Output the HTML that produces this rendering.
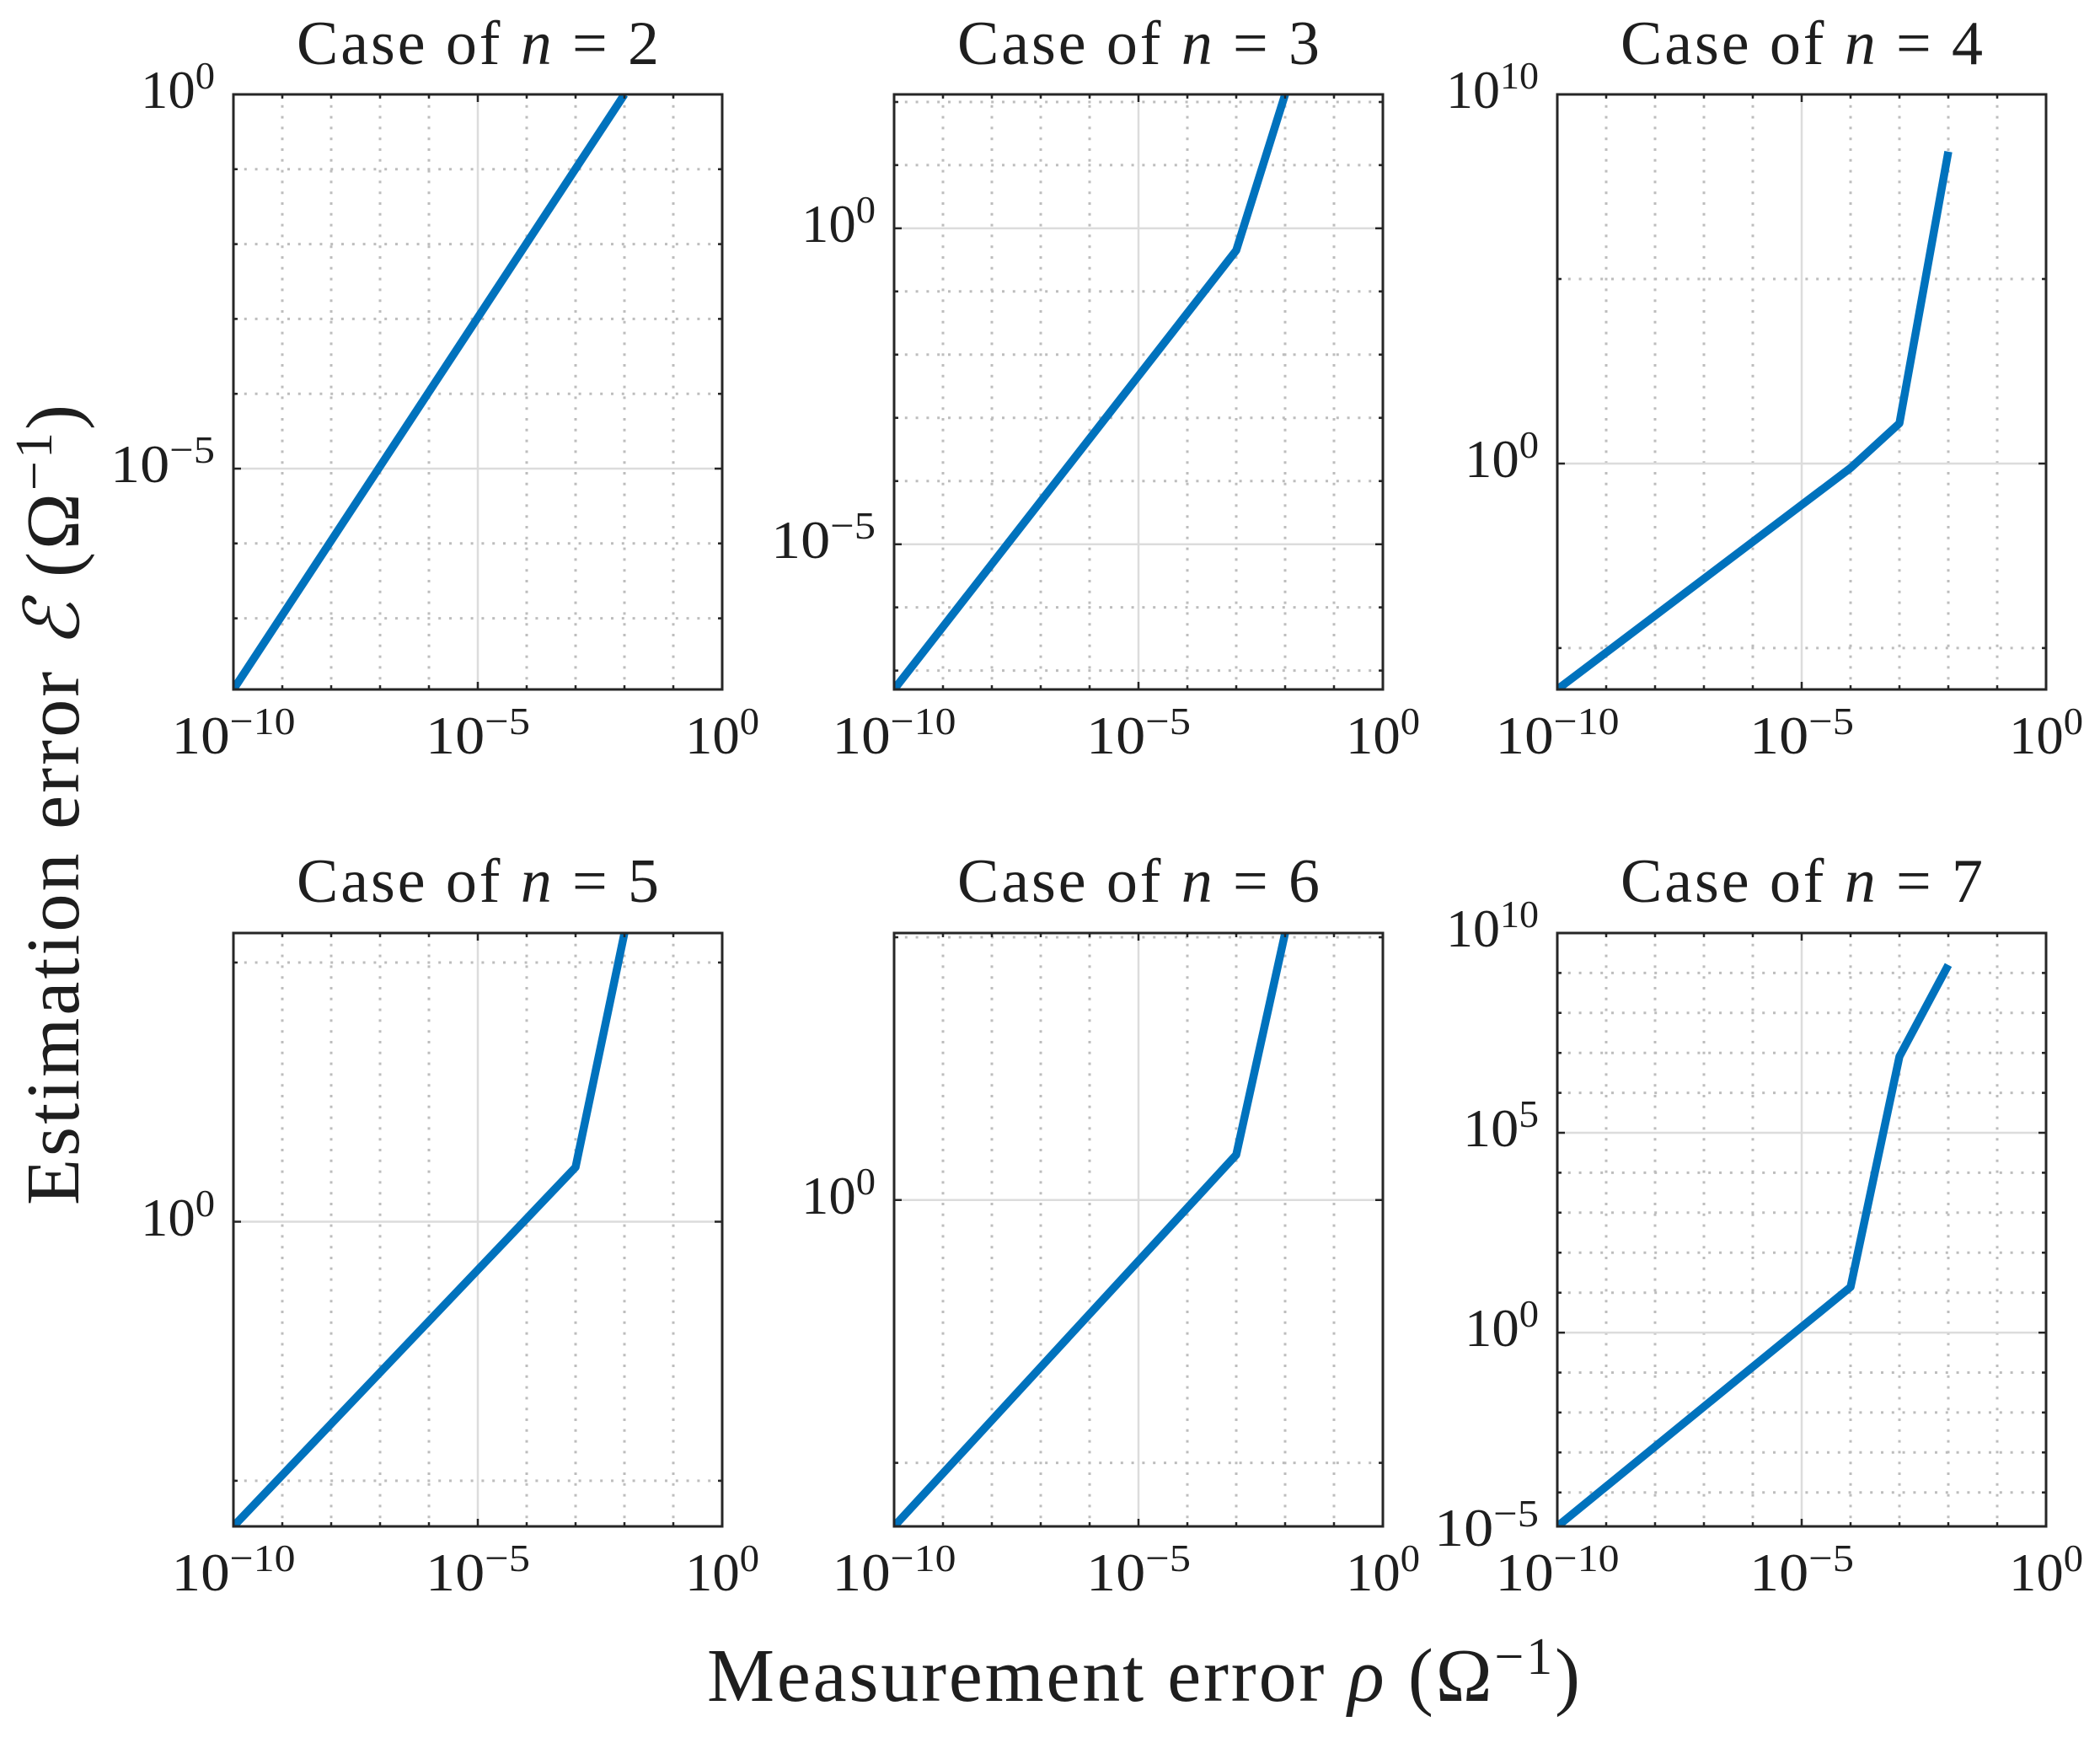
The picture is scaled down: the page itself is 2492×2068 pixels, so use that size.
<!DOCTYPE html>
<html>
<head>
<meta charset="utf-8">
<style>
html,body{margin:0;padding:0;background:#fff;}
svg{display:block;}
text{font-family:"Liberation Serif","DejaVu Serif",serif;fill:#1e1e1e;}
.mn{stroke:#bdbdbd;stroke-width:3;stroke-dasharray:3 9.8;fill:none;}
.mj{stroke:#dcdcdc;stroke-width:2.5;fill:none;}
.dl{stroke:#0072BD;stroke-width:9.5;fill:none;stroke-linejoin:round;stroke-linecap:butt;}
.bx{stroke:#262626;stroke-width:3;fill:none;}
.tk{stroke:#262626;stroke-width:2.5;fill:none;}
.tl{font-size:64px;}
.ti{font-size:74px;}
</style>
</head>
<body>
<svg width="2492" height="2068" viewBox="0 0 2492 2068" xmlns="http://www.w3.org/2000/svg">
<rect width="2492" height="2068" fill="#fff"/>
<defs>
<clipPath id="c706"><rect x="0" y="0" width="580" height="706"/></clipPath>
<clipPath id="c704"><rect x="0" y="0" width="580" height="704"/></clipPath>
<path id="vd706" d="M58 0V706M116 0V706M174 0V706M232 0V706M348 0V706M406 0V706M464 0V706M522 0V706"/>
<path id="vd704" d="M58 0V704M116 0V704M174 0V704M232 0V704M348 0V704M406 0V704M464 0V704M522 0V704"/>
<path id="xt706" d="M58 706v-5M116 706v-5M174 706v-5M232 706v-5M290 706v-9M348 706v-5M406 706v-5M464 706v-5M522 706v-5M58 0v5M116 0v5M174 0v5M232 0v5M290 0v9M348 0v5M406 0v5M464 0v5M522 0v5"/>
<path id="xt704" d="M58 704v-5M116 704v-5M174 704v-5M232 704v-5M290 704v-9M348 704v-5M406 704v-5M464 704v-5M522 704v-5M58 0v5M116 0v5M174 0v5M232 0v5M290 0v9M348 0v5M406 0v5M464 0v5M522 0v5"/>
</defs>

<!-- Panel 1: n=2 -->
<g transform="translate(277,112)">
<use href="#vd706" class="mn"/>
<path class="mn" d="M0 88.8H580M0 177.6H580M0 266.4H580M0 355.2H580M0 532.8H580M0 621.6H580"/>
<path class="mj" d="M290 0V706M0 444H580"/>
<g clip-path="url(#c706)"><polyline class="dl" points="0,706 464,0"/></g>
<use href="#xt706" class="tk"/>
<path class="tk" d="M0 88.8h5M580 88.8h-5M0 177.6h5M580 177.6h-5M0 266.4h5M580 266.4h-5M0 355.2h5M580 355.2h-5M0 532.8h5M580 532.8h-5M0 621.6h5M580 621.6h-5M0 444h9M580 444h-9"/>
<rect class="bx" x="0" y="0" width="580" height="706"/>
</g>

<!-- Panel 2: n=3 -->
<g transform="translate(1061,112)">
<use href="#vd706" class="mn"/>
<path class="mn" d="M0 9H580M0 83.9H580M0 233.8H580M0 308.8H580M0 383.7H580M0 458.7H580M0 608.6H580M0 683.6H580"/>
<path class="mj" d="M290 0V706M0 158.9H580M0 533.7H580"/>
<g clip-path="url(#c706)"><polyline class="dl" points="0,706 406,185.1 464,0"/></g>
<use href="#xt706" class="tk"/>
<path class="tk" d="M0 9h5M580 9h-5M0 83.9h5M580 83.9h-5M0 233.8h5M580 233.8h-5M0 308.8h5M580 308.8h-5M0 383.7h5M580 383.7h-5M0 458.7h5M580 458.7h-5M0 608.6h5M580 608.6h-5M0 683.6h5M580 683.6h-5M0 158.9h9M580 158.9h-9M0 533.7h9M580 533.7h-9"/>
<rect class="bx" x="0" y="0" width="580" height="706"/>
</g>

<!-- Panel 3: n=4 -->
<g transform="translate(1848,112)">
<use href="#vd706" class="mn"/>
<path class="mn" d="M0 219H580M0 656.9H580"/>
<path class="mj" d="M290 0V706M0 438H580"/>
<g clip-path="url(#c706)"><polyline class="dl" points="0,706 348,443.2 406,390.2 464,67.9"/></g>
<use href="#xt706" class="tk"/>
<path class="tk" d="M0 219h5M580 219h-5M0 656.9h5M580 656.9h-5M0 438h9M580 438h-9"/>
<rect class="bx" x="0" y="0" width="580" height="706"/>
</g>

<!-- Panel 4: n=5 -->
<g transform="translate(277,1107)">
<use href="#vd704" class="mn"/>
<path class="mn" d="M0 35H580M0 649.9H580"/>
<path class="mj" d="M290 0V704M0 342.5H580"/>
<g clip-path="url(#c704)"><polyline class="dl" points="0,704 406,277.9 464,0"/></g>
<use href="#xt704" class="tk"/>
<path class="tk" d="M0 35h5M580 35h-5M0 649.9h5M580 649.9h-5M0 342.5h9M580 342.5h-9"/>
<rect class="bx" x="0" y="0" width="580" height="704"/>
</g>

<!-- Panel 5: n=6 -->
<g transform="translate(1061,1107)">
<use href="#vd704" class="mn"/>
<path class="mn" d="M0 5H580M0 628.6H580"/>
<path class="mj" d="M290 0V704M0 316.8H580"/>
<g clip-path="url(#c704)"><polyline class="dl" points="0,704 406,263.1 464,0"/></g>
<use href="#xt704" class="tk"/>
<path class="tk" d="M0 5h5M580 5h-5M0 628.6h5M580 628.6h-5M0 316.8h9M580 316.8h-9"/>
<rect class="bx" x="0" y="0" width="580" height="704"/>
</g>

<!-- Panel 6: n=7 -->
<g transform="translate(1848,1107)">
<use href="#vd704" class="mn"/>
<path class="mn" d="M0 47.4H580M0 94.8H580M0 142.2H580M0 189.6H580M0 284.4H580M0 331.8H580M0 379.3H580M0 426.7H580M0 521.5H580M0 568.9H580M0 616.3H580M0 663.7H580"/>
<path class="mj" d="M290 0V704M0 237H580M0 474.1H580"/>
<g clip-path="url(#c704)"><polyline class="dl" points="0,704 348,420 406,146.5 464,37.9"/></g>
<use href="#xt704" class="tk"/>
<path class="tk" d="M0 47.4h5M580 47.4h-5M0 94.8h5M580 94.8h-5M0 142.2h5M580 142.2h-5M0 189.6h5M580 189.6h-5M0 284.4h5M580 284.4h-5M0 331.8h5M580 331.8h-5M0 379.3h5M580 379.3h-5M0 426.7h5M580 426.7h-5M0 521.5h5M580 521.5h-5M0 568.9h5M580 568.9h-5M0 616.3h5M580 616.3h-5M0 663.7h5M580 663.7h-5M0 237h9M580 237h-9M0 474.1h9M580 474.1h-9"/>
<rect class="bx" x="0" y="0" width="580" height="704"/>
</g>

<!-- Titles -->
<text class="ti" x="567" y="76" text-anchor="middle" textLength="430" lengthAdjust="spacing">Case of <tspan font-style="italic">n</tspan> = 2</text>
<text class="ti" x="1351" y="76" text-anchor="middle" textLength="430" lengthAdjust="spacing">Case of <tspan font-style="italic">n</tspan> = 3</text>
<text class="ti" x="2138" y="76" text-anchor="middle" textLength="430" lengthAdjust="spacing">Case of <tspan font-style="italic">n</tspan> = 4</text>
<text class="ti" x="567" y="1070" text-anchor="middle" textLength="430" lengthAdjust="spacing">Case of <tspan font-style="italic">n</tspan> = 5</text>
<text class="ti" x="1351" y="1070" text-anchor="middle" textLength="430" lengthAdjust="spacing">Case of <tspan font-style="italic">n</tspan> = 6</text>
<text class="ti" x="2138" y="1070" text-anchor="middle" textLength="430" lengthAdjust="spacing">Case of <tspan font-style="italic">n</tspan> = 7</text>

<!-- X tick labels row 1 -->
<text class="tl" x="277" y="894" text-anchor="middle" textLength="147" lengthAdjust="spacingAndGlyphs">10<tspan dy="-23" font-size="46">−10</tspan></text>
<text class="tl" x="567" y="894" text-anchor="middle" textLength="124" lengthAdjust="spacingAndGlyphs">10<tspan dy="-23" font-size="46">−5</tspan></text>
<text class="tl" x="857" y="894" text-anchor="middle" textLength="88" lengthAdjust="spacingAndGlyphs">10<tspan dy="-23" font-size="46">0</tspan></text>
<text class="tl" x="1061" y="894" text-anchor="middle" textLength="147" lengthAdjust="spacingAndGlyphs">10<tspan dy="-23" font-size="46">−10</tspan></text>
<text class="tl" x="1351" y="894" text-anchor="middle" textLength="124" lengthAdjust="spacingAndGlyphs">10<tspan dy="-23" font-size="46">−5</tspan></text>
<text class="tl" x="1641" y="894" text-anchor="middle" textLength="88" lengthAdjust="spacingAndGlyphs">10<tspan dy="-23" font-size="46">0</tspan></text>
<text class="tl" x="1848" y="894" text-anchor="middle" textLength="147" lengthAdjust="spacingAndGlyphs">10<tspan dy="-23" font-size="46">−10</tspan></text>
<text class="tl" x="2138" y="894" text-anchor="middle" textLength="124" lengthAdjust="spacingAndGlyphs">10<tspan dy="-23" font-size="46">−5</tspan></text>
<text class="tl" x="2428" y="894" text-anchor="middle" textLength="88" lengthAdjust="spacingAndGlyphs">10<tspan dy="-23" font-size="46">0</tspan></text>

<!-- X tick labels row 2 -->
<text class="tl" x="277" y="1887" text-anchor="middle" textLength="147" lengthAdjust="spacingAndGlyphs">10<tspan dy="-23" font-size="46">−10</tspan></text>
<text class="tl" x="567" y="1887" text-anchor="middle" textLength="124" lengthAdjust="spacingAndGlyphs">10<tspan dy="-23" font-size="46">−5</tspan></text>
<text class="tl" x="857" y="1887" text-anchor="middle" textLength="88" lengthAdjust="spacingAndGlyphs">10<tspan dy="-23" font-size="46">0</tspan></text>
<text class="tl" x="1061" y="1887" text-anchor="middle" textLength="147" lengthAdjust="spacingAndGlyphs">10<tspan dy="-23" font-size="46">−10</tspan></text>
<text class="tl" x="1351" y="1887" text-anchor="middle" textLength="124" lengthAdjust="spacingAndGlyphs">10<tspan dy="-23" font-size="46">−5</tspan></text>
<text class="tl" x="1641" y="1887" text-anchor="middle" textLength="88" lengthAdjust="spacingAndGlyphs">10<tspan dy="-23" font-size="46">0</tspan></text>
<text class="tl" x="1848" y="1887" text-anchor="middle" textLength="147" lengthAdjust="spacingAndGlyphs">10<tspan dy="-23" font-size="46">−10</tspan></text>
<text class="tl" x="2138" y="1887" text-anchor="middle" textLength="124" lengthAdjust="spacingAndGlyphs">10<tspan dy="-23" font-size="46">−5</tspan></text>
<text class="tl" x="2428" y="1887" text-anchor="middle" textLength="88" lengthAdjust="spacingAndGlyphs">10<tspan dy="-23" font-size="46">0</tspan></text>

<!-- Y tick labels -->
<text class="tl" x="255" y="128" text-anchor="end" textLength="88" lengthAdjust="spacingAndGlyphs">10<tspan dy="-23" font-size="46">0</tspan></text>
<text class="tl" x="255" y="572" text-anchor="end" textLength="124" lengthAdjust="spacingAndGlyphs">10<tspan dy="-23" font-size="46">−5</tspan></text>
<text class="tl" x="1039" y="287" text-anchor="end" textLength="88" lengthAdjust="spacingAndGlyphs">10<tspan dy="-23" font-size="46">0</tspan></text>
<text class="tl" x="1039" y="662" text-anchor="end" textLength="124" lengthAdjust="spacingAndGlyphs">10<tspan dy="-23" font-size="46">−5</tspan></text>
<text class="tl" x="1826" y="128" text-anchor="end" textLength="110" lengthAdjust="spacingAndGlyphs">10<tspan dy="-23" font-size="46">10</tspan></text>
<text class="tl" x="1826" y="566" text-anchor="end" textLength="88" lengthAdjust="spacingAndGlyphs">10<tspan dy="-23" font-size="46">0</tspan></text>
<text class="tl" x="255" y="1466" text-anchor="end" textLength="88" lengthAdjust="spacingAndGlyphs">10<tspan dy="-23" font-size="46">0</tspan></text>
<text class="tl" x="1039" y="1440" text-anchor="end" textLength="88" lengthAdjust="spacingAndGlyphs">10<tspan dy="-23" font-size="46">0</tspan></text>
<text class="tl" x="1826" y="1123" text-anchor="end" textLength="110" lengthAdjust="spacingAndGlyphs">10<tspan dy="-23" font-size="46">10</tspan></text>
<text class="tl" x="1826" y="1360" text-anchor="end" textLength="90" lengthAdjust="spacingAndGlyphs">10<tspan dy="-23" font-size="46">5</tspan></text>
<text class="tl" x="1826" y="1597" text-anchor="end" textLength="88" lengthAdjust="spacingAndGlyphs">10<tspan dy="-23" font-size="46">0</tspan></text>
<text class="tl" x="1826" y="1834" text-anchor="end" textLength="124" lengthAdjust="spacingAndGlyphs">10<tspan dy="-23" font-size="46">−5</tspan></text>

<!-- Axis labels -->
<text x="1357" y="2018" font-size="90" text-anchor="middle" textLength="1036" lengthAdjust="spacing">Measurement error <tspan font-style="italic">ρ</tspan> (Ω<tspan dy="-32" font-size="62">−1</tspan><tspan dy="32">)</tspan></text>
<text transform="translate(93,955) rotate(-90)" font-size="90" text-anchor="middle" textLength="950" lengthAdjust="spacing">Estimation error <tspan font-style="italic">ℰ</tspan> (Ω<tspan dy="-32" font-size="62">−1</tspan><tspan dy="32">)</tspan></text>
</svg>
</body>
</html>
